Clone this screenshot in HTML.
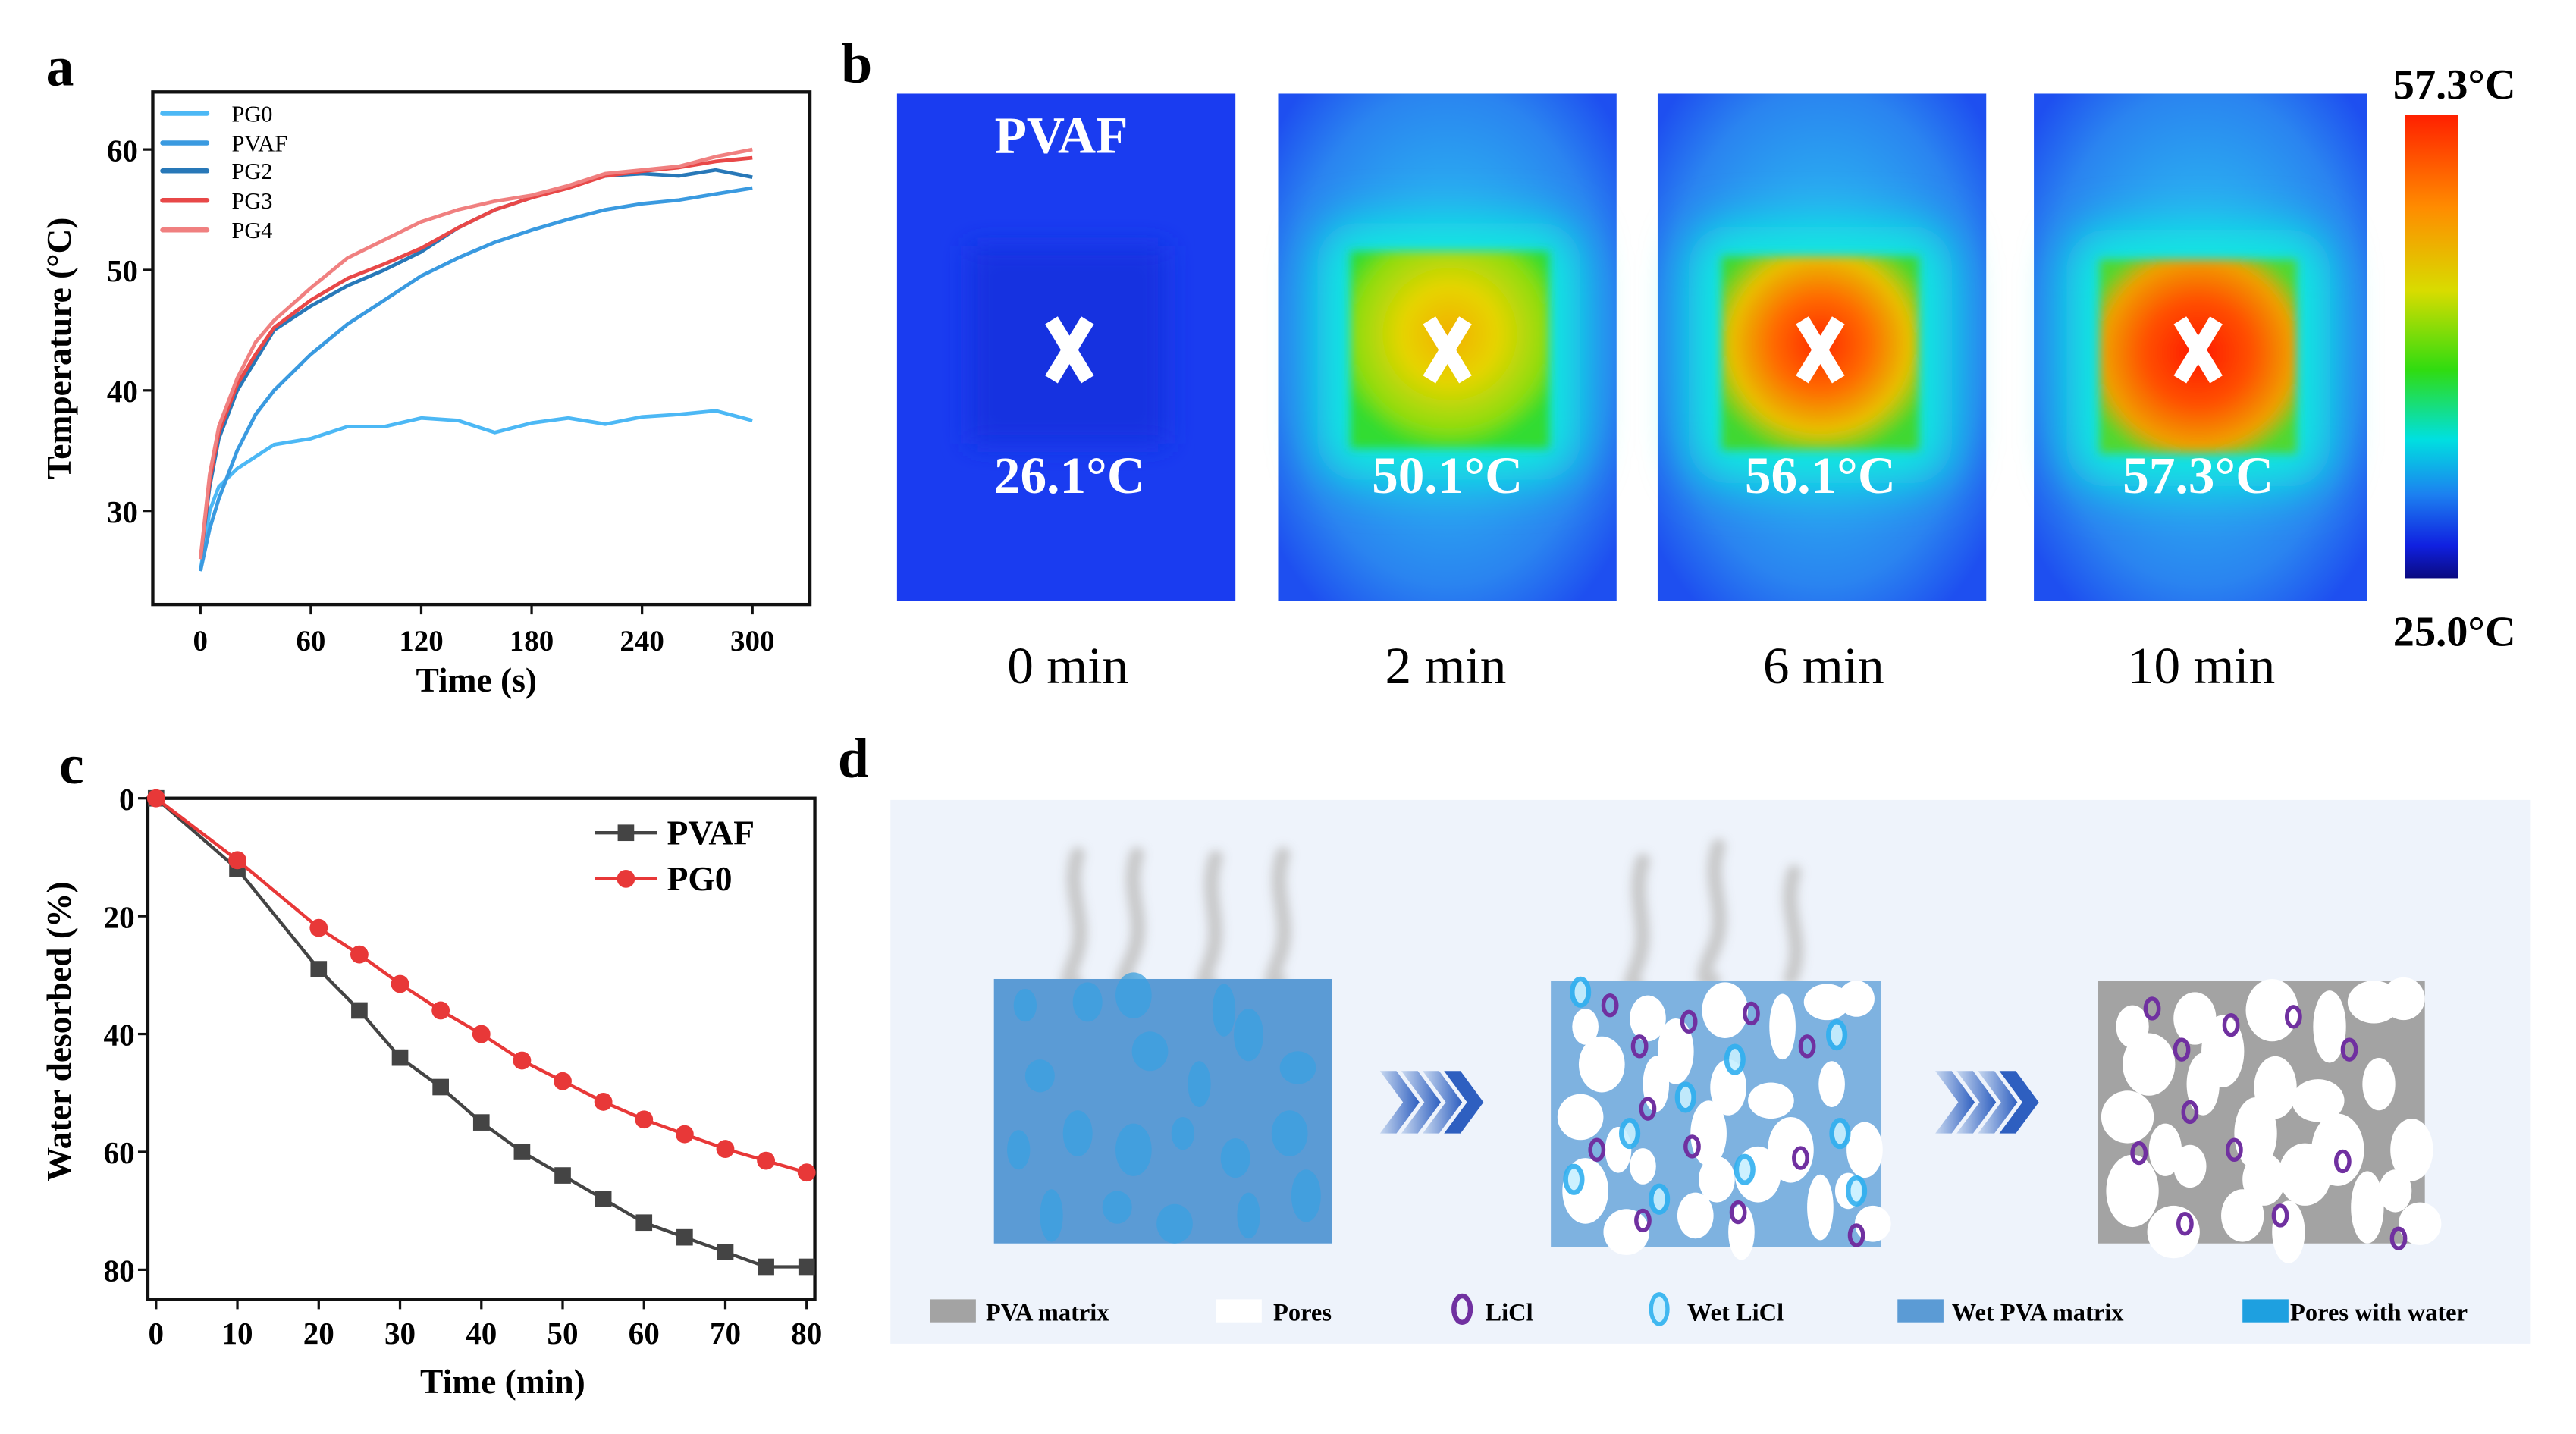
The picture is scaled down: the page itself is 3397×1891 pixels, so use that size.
<!DOCTYPE html>
<html><head><meta charset="utf-8">
<style>
html,body{margin:0;padding:0;background:#fff;}
svg{display:block;}
text{font-family:"Liberation Serif",serif;}
</style></head>
<body>
<svg id="fig" width="3397" height="1891" viewBox="0 0 1568 873" preserveAspectRatio="none" xmlns="http://www.w3.org/2000/svg">
<defs>
  <filter id="blur3" x="-50%" y="-50%" width="200%" height="200%"><feGaussianBlur stdDeviation="3"/></filter>
  <filter id="blur8" x="-50%" y="-50%" width="200%" height="200%"><feGaussianBlur stdDeviation="8"/></filter>
  <filter id="blur14" x="-50%" y="-50%" width="200%" height="200%"><feGaussianBlur stdDeviation="14"/></filter>
  <radialGradient id="bgGlow" cx="50%" cy="48%" r="65%">
    <stop offset="0" stop-color="#2fd8f0"/>
    <stop offset="0.35" stop-color="#2ab4f0"/>
    <stop offset="0.75" stop-color="#2a84f0"/>
    <stop offset="1" stop-color="#1e4ff0"/>
  </radialGradient>
  <radialGradient id="hot2" cx="50%" cy="42%" r="60%">
    <stop offset="0" stop-color="#f2b000"/>
    <stop offset="0.4" stop-color="#e6d400"/>
    <stop offset="0.8" stop-color="#8fdc10"/>
    <stop offset="1" stop-color="#30dc30"/>
  </radialGradient>
  <radialGradient id="hot6" cx="50%" cy="45%" r="60%">
    <stop offset="0" stop-color="#ff2a00"/>
    <stop offset="0.4" stop-color="#ff6a00"/>
    <stop offset="0.75" stop-color="#e8c000"/>
    <stop offset="1" stop-color="#40d830"/>
  </radialGradient>
  <radialGradient id="hot10" cx="50%" cy="48%" r="60%">
    <stop offset="0" stop-color="#ff1800"/>
    <stop offset="0.45" stop-color="#ff5000"/>
    <stop offset="0.8" stop-color="#f0a000"/>
    <stop offset="1" stop-color="#50d830"/>
  </radialGradient>
  <linearGradient id="cbar" x1="0" y1="0" x2="0" y2="1">
    <stop offset="0" stop-color="#ff2000"/>
    <stop offset="0.2" stop-color="#ff8c00"/>
    <stop offset="0.38" stop-color="#d8dc00"/>
    <stop offset="0.55" stop-color="#30dc10"/>
    <stop offset="0.7" stop-color="#00e0e0"/>
    <stop offset="0.82" stop-color="#1c80f0"/>
    <stop offset="0.93" stop-color="#1020e0"/>
    <stop offset="1" stop-color="#0a0a80"/>
  </linearGradient>
  <linearGradient id="chev" x1="0" y1="0" x2="1" y2="0">
    <stop offset="0" stop-color="#c8d8f0"/>
    <stop offset="1" stop-color="#2e5fc0"/>
  </linearGradient>
  <g id="xmark"><path d="M-11 -18 L11 18 M11 -18 L-11 18" stroke="#fff" stroke-width="9" stroke-linecap="butt"/></g>
</defs>

<!-- ================= PANEL A ================= -->
<text x="28" y="52" font-size="34" font-weight="bold">a</text>
<g id="chartA"></g>

<!-- ================= PANEL C ================= -->
<text x="36" y="477" font-size="34" font-weight="bold">c</text>
<g id="chartC"></g>

<!-- ================= PANEL B ================= -->
<text x="512" y="50" font-size="34" font-weight="bold">b</text>
<g>
  <g>
    <rect x="546" y="57" width="206" height="309" fill="#1a3cf0"/>
    <rect x="590" y="150" width="120" height="120" fill="#1530e0" filter="url(#blur8)"/>
    <text x="646" y="93" font-size="32" font-weight="bold" fill="#fff" text-anchor="middle">PVAF</text>
    <use href="#xmark" x="651" y="213"/>
    <text x="651" y="300" font-size="32" font-weight="bold" fill="#fff" text-anchor="middle">26.1°C</text>
  </g>
  <g>
    <rect x="778" y="57" width="206" height="309" fill="url(#bgGlow)"/>
    <rect x="802" y="136" width="160" height="156" rx="24" fill="#10e8e0" filter="url(#blur14)"/>
    <rect x="822" y="153" width="121" height="120" fill="url(#hot2)" filter="url(#blur3)"/>
    <use href="#xmark" x="881" y="213"/>
    <text x="881" y="300" font-size="32" font-weight="bold" fill="#fff" text-anchor="middle">50.1°C</text>
  </g>
  <g>
    <rect x="1009" y="57" width="200" height="309" fill="url(#bgGlow)"/>
    <rect x="1028" y="138" width="160" height="156" rx="24" fill="#10e8e0" filter="url(#blur14)"/>
    <rect x="1048" y="156" width="120" height="118" fill="url(#hot6)" filter="url(#blur3)"/>
    <use href="#xmark" x="1108" y="213"/>
    <text x="1108" y="300" font-size="32" font-weight="bold" fill="#fff" text-anchor="middle">56.1°C</text>
  </g>
  <g>
    <rect x="1238" y="57" width="203" height="309" fill="url(#bgGlow)"/>
    <rect x="1258" y="140" width="160" height="156" rx="24" fill="#10e8e0" filter="url(#blur14)"/>
    <rect x="1278" y="158" width="120" height="118" fill="url(#hot10)" filter="url(#blur3)"/>
    <use href="#xmark" x="1338" y="213"/>
    <text x="1338" y="300" font-size="32" font-weight="bold" fill="#fff" text-anchor="middle">57.3°C</text>
  </g>
  <text x="650" y="416" font-size="32" text-anchor="middle">0 min</text>
  <text x="880" y="416" font-size="32" text-anchor="middle">2 min</text>
  <text x="1110" y="416" font-size="32" text-anchor="middle">6 min</text>
  <text x="1340" y="416" font-size="32" text-anchor="middle">10 min</text>
  <rect x="1464" y="70" width="32" height="282" fill="url(#cbar)"/>
  <text x="1494" y="60" font-size="26" font-weight="bold" text-anchor="middle">57.3°C</text>
  <text x="1494" y="393" font-size="26" font-weight="bold" text-anchor="middle">25.0°C</text>
</g>

<!-- ================= PANEL D ================= -->
<text x="510" y="473" font-size="34" font-weight="bold">d</text>
<g>
  <rect x="542" y="487" width="998" height="331" fill="#eef3fb"/>
  <g id="steam" stroke="#c4c4c4" stroke-width="9" fill="none" stroke-linecap="round" filter="url(#blur3)" opacity="0.9">
    <path d="M656 520 C648 545,664 560,654 585 S656 600,654 598"/>
    <path d="M692 520 C684 545,700 560,688 585 S690 600,688 598"/>
    <path d="M740 522 C732 547,746 562,736 587 S738 600,736 598"/>
    <path d="M781 520 C773 545,788 560,778 585 S780 598,778 596"/>
    <path d="M1000 524 C992 549,1006 564,996 589 S998 602,996 600"/>
    <path d="M1046 515 C1038 540,1054 555,1042 580 S1046 598,1042 596"/>
    <path d="M1092 531 C1084 556,1100 571,1090 596"/>
  </g>
  <g id="block1">
    <rect x="605" y="596" width="206" height="161" fill="#5b9bd5"/>
  </g>
  <g id="block2">
    <rect x="944" y="597" width="201" height="162" fill="#7eb2e0"/>
  </g>
  <g id="block3">
    <rect x="1277" y="597" width="199" height="160" fill="#a3a3a3"/>
  </g>
  <g fill="url(#chev)">
    <path d="M840 652 h10 l14 19 l-14 19 h-10 l14 -19z"/>
    <path d="M853 652 h10 l14 19 l-14 19 h-10 l14 -19z"/>
    <path d="M866 652 h10 l14 19 l-14 19 h-10 l14 -19z"/>
    <path d="M879 652 h10 l14 19 l-14 19 h-10 l14 -19z" fill="#2e5fc0"/>
  </g>
  <g fill="url(#chev)">
    <path d="M1178 652 h10 l14 19 l-14 19 h-10 l14 -19z"/>
    <path d="M1191 652 h10 l14 19 l-14 19 h-10 l14 -19z"/>
    <path d="M1204 652 h10 l14 19 l-14 19 h-10 l14 -19z"/>
    <path d="M1217 652 h10 l14 19 l-14 19 h-10 l14 -19z" fill="#2e5fc0"/>
  </g>
  <g font-size="15" font-weight="bold">
    <rect x="566" y="791" width="28" height="14" fill="#a3a3a3"/>
    <text x="600" y="804">PVA matrix</text>
    <rect x="740" y="791" width="28" height="14" fill="#ffffff"/>
    <text x="775" y="804">Pores</text>
    <ellipse cx="890" cy="797" rx="5" ry="8" fill="none" stroke="#7030a0" stroke-width="3"/>
    <text x="904" y="804">LiCl</text>
    <ellipse cx="1010" cy="797" rx="5" ry="9" fill="#d0f0ff" stroke="#40b8f0" stroke-width="2.5"/>
    <text x="1027" y="804">Wet  LiCl</text>
    <rect x="1155" y="791" width="28" height="14" fill="#5b9bd5"/>
    <text x="1188" y="804">Wet PVA matrix</text>
    <rect x="1365" y="791" width="28" height="14" fill="#1ea0e0"/>
    <text x="1394" y="804">Pores with water</text>
  </g>
</g>

<script>
// ---------- Chart A data ----------
const aTime = [0,5,10,20,30,40,60,80,100,120,140,160,180,200,220,240,260,280,300];
const aPG0  = [25,30,32,33.5,34.5,35.5,36,37,37,37.7,37.5,36.5,37.3,37.7,37.2,37.8,38,38.3,37.5];
const aPVAF = [25,28.5,31,35,38,40,43,45.5,47.5,49.5,51,52.3,53.3,54.2,55,55.5,55.8,56.3,56.8];
const aPG2  = [26,32,36,40,42.5,45,47,48.7,50,51.5,53.5,55,56,57,57.8,58,57.8,58.3,57.7];
const aPG3  = [26,32.5,36.5,40.5,43,45.2,47.5,49.3,50.5,51.8,53.5,55,56,56.8,57.8,58.2,58.5,59,59.3];
const aPG4  = [26,33,37,41,44,45.8,48.5,51,52.5,54,55,55.7,56.2,57,58,58.3,58.6,59.4,60];
const aSeriesNames = ["PG0","PVAF","PG2","PG3","PG4"];
const aXTicks = [0,60,120,180,240,300];
const aYTicks = [30,40,50,60];

// ---------- Chart C data ----------
const cTime = [0,10,20,25,30,35,40,45,50,55,60,65,70,75,80];
const cPVAF = [0,12,29,36,44,49,55,60,64,68,72,74.5,77,79.5,79.5];
const cPG0  = [0,10.5,22,26.5,31.5,36,40,44.5,48,51.5,54.5,57,59.5,61.5,63.5];
const cXTicks = [0,10,20,30,40,50,60,70,80];
const cYTicks = [0,20,40,60,80];

const NS = "http://www.w3.org/2000/svg";
function mk(parent, tag, attrs, txt){
  const e = document.createElementNS(NS, tag);
  for (const k in attrs) e.setAttribute(k, attrs[k]);
  if (txt !== undefined) e.textContent = txt;
  parent.appendChild(e);
  return e;
}

// ===== Chart A =====
(function(){
  const g = document.getElementById("chartA");
  const xa = t => 122 + t*(458-122)/300;
  const ya = v => 311 - (v-30)*(311-91)/30;
  const colors = ["#4cb8f5","#3a9ae0","#2878b8","#e84848","#f08080"];
  const series = [aPG0,aPVAF,aPG2,aPG3,aPG4];
  series.forEach((s,i)=>{
    const pts = s.map((v,j)=>xa(aTime[j]).toFixed(1)+","+ya(v).toFixed(1)).join(" ");
    const pl = mk(g,"polyline",{points:pts,fill:"none",stroke:colors[i],"stroke-width":2.2,"stroke-linejoin":"round"});
    
    
  });
  const fr = mk(g,"rect",{x:93,y:56,width:400,height:312,fill:"none",stroke:"#111","stroke-width":2});
  
  
  aXTicks.forEach(t=>{
    mk(g,"line",{x1:xa(t),x2:xa(t),y1:368,y2:374,stroke:"#111","stroke-width":1.5});
    const tx = mk(g,"text",{x:xa(t),y:396,"font-size":18,"font-weight":"bold","text-anchor":"middle"},String(t));
    
    
  });
  aYTicks.forEach(v=>{
    mk(g,"line",{x1:87,x2:93,y1:ya(v),y2:ya(v),stroke:"#111","stroke-width":1.5});
    const tx = mk(g,"text",{x:84,y:ya(v)+7,"font-size":19,"font-weight":"bold","text-anchor":"end"},String(v));
    
    
  });
  const xt = mk(g,"text",{x:290,y:421,"font-size":21,"font-weight":"bold","text-anchor":"middle"},"Time (s)");
  
  
  const yt = mk(g,"text",{x:0,y:0,"font-size":21,"font-weight":"bold","text-anchor":"middle",transform:"translate(43,212) rotate(-90)"},"Temperature (°C)");
  
  
  const ly = [69,87,104,122,140];
  aSeriesNames.forEach((n,i)=>{
    const le = mk(g,"g",{});
    
    
    mk(le,"line",{x1:99,x2:126,y1:ly[i],y2:ly[i],stroke:colors[i],"stroke-width":3,"stroke-linecap":"round"});
    mk(le,"text",{x:141,y:ly[i]+5,"font-size":14},n);
  });
})();

// ===== Chart C =====
(function(){
  const g = document.getElementById("chartC");
  const xc = t => 95 + t*(491-95)/80;
  const yc = v => 486 + v*(773-486)/80;
  const fr = mk(g,"rect",{x:90,y:486,width:406,height:305,fill:"none",stroke:"#111","stroke-width":2});
  
  
  cXTicks.forEach(t=>{
    mk(g,"line",{x1:xc(t),x2:xc(t),y1:791,y2:797,stroke:"#111","stroke-width":1.5});
    const tx = mk(g,"text",{x:xc(t),y:818,"font-size":19,"font-weight":"bold","text-anchor":"middle"},String(t));
    
    
  });
  cYTicks.forEach(v=>{
    mk(g,"line",{x1:84,x2:90,y1:yc(v),y2:yc(v),stroke:"#111","stroke-width":1.5});
    const tx = mk(g,"text",{x:82,y:yc(v)+7,"font-size":19,"font-weight":"bold","text-anchor":"end"},String(v));
    
    
  });
  const xt = mk(g,"text",{x:306,y:848,"font-size":21,"font-weight":"bold","text-anchor":"middle"},"Time (min)");
  
  
  const yt = mk(g,"text",{x:0,y:0,"font-size":21,"font-weight":"bold","text-anchor":"middle",transform:"translate(43,628) rotate(-90)"},"Water desorbed (%)");
  
  
  const p1 = mk(g,"polyline",{points:cPVAF.map((v,i)=>xc(cTime[i])+","+yc(v)).join(" "),fill:"none",stroke:"#444","stroke-width":2});
  
  
  cPVAF.forEach((v,i)=>{
    const m = mk(g,"rect",{x:xc(cTime[i])-5,y:yc(v)-5,width:10,height:10,fill:"#444"});
    
    
  });
  const p2 = mk(g,"polyline",{points:cPG0.map((v,i)=>xc(cTime[i])+","+yc(v)).join(" "),fill:"none",stroke:"#e83838","stroke-width":2});
  
  
  cPG0.forEach((v,i)=>{
    const m = mk(g,"circle",{cx:xc(cTime[i]),cy:yc(v),r:5.5,fill:"#e83838"});
    
    
  });
  const l1 = mk(g,"g",{});
  
  
  mk(l1,"line",{x1:362,x2:400,y1:507,y2:507,stroke:"#444","stroke-width":2});
  mk(l1,"rect",{x:376,y:502,width:10,height:10,fill:"#444"});
  mk(l1,"text",{x:406,y:514,"font-size":21,"font-weight":"bold"},"PVAF");
  const l2 = mk(g,"g",{});
  
  
  mk(l2,"line",{x1:362,x2:400,y1:535,y2:535,stroke:"#e83838","stroke-width":2});
  mk(l2,"circle",{cx:381,cy:535,r:5.5,fill:"#e83838"});
  mk(l2,"text",{x:406,y:542,"font-size":21,"font-weight":"bold"},"PG0");
})();

// ===== Schematic pores (decorative) =====
(function(){
  const b1 = document.getElementById("block1");
  const wp = [[624,612],[662,610],[690,606],[745,615],[633,655],[700,640],[730,660],[760,630],[790,650],[620,700],[656,690],[690,700],[720,690],[752,705],[785,690],[640,740],[680,735],[715,745],[760,740],[795,728]];
  wp.forEach((p,i)=>{
    mk(b1,"ellipse",{cx:p[0],cy:p[1],rx:7+(i%3)*2,ry:10+(i%4)*2,fill:"#3aa0e0",opacity:0.75});
  });
  const b2 = document.getElementById("block2");
  const b3 = document.getElementById("block3");
  const pores = [[965,625],[1003,620],[1050,615],[1085,625],[1130,608],[962,680],[1008,660],[1040,690],[1078,670],[1115,660],[1135,700],[965,725],[1000,710],[1032,740],[1070,715],[1108,735],[1140,745],[990,750],[1060,750],[1020,640],[1112,610],[985,700],[1052,662],[1090,700],[1125,725],[1045,718],[975,648]];
  pores.forEach((p,i)=>{
    mk(b2,"ellipse",{cx:p[0],cy:p[1],rx:8+(i%3)*3,ry:11+(i%4)*3,fill:"#fff"});
    mk(b3,"ellipse",{cx:p[0]+333,cy:p[1],rx:10+(i%3)*3,ry:13+(i%4)*3,fill:"#fff"});
  });
  const rings = [[980,612],[998,637],[1028,622],[1066,617],[1003,675],[1100,637],[972,700],[1030,698],[1096,705],[1000,743],[1130,752],[1058,738]];
  rings.forEach(p=>{
    mk(b2,"ellipse",{cx:p[0],cy:p[1],rx:4,ry:6,fill:"none",stroke:"#7030a0","stroke-width":2.5});
    mk(b3,"ellipse",{cx:p[0]+330,cy:p[1]+2,rx:4,ry:6,fill:"none",stroke:"#7030a0","stroke-width":2.5});
  });
  const wet = [[962,604],[1118,630],[1026,668],[1056,645],[992,690],[1120,690],[958,718],[1062,712],[1010,730],[1130,725]];
  wet.forEach(p=>{
    mk(b2,"ellipse",{cx:p[0],cy:p[1],rx:5,ry:8,fill:"#c8f0ff",stroke:"#30b0f0","stroke-width":3,opacity:0.9});
  });
})();
</script>
</svg>
</body></html>
